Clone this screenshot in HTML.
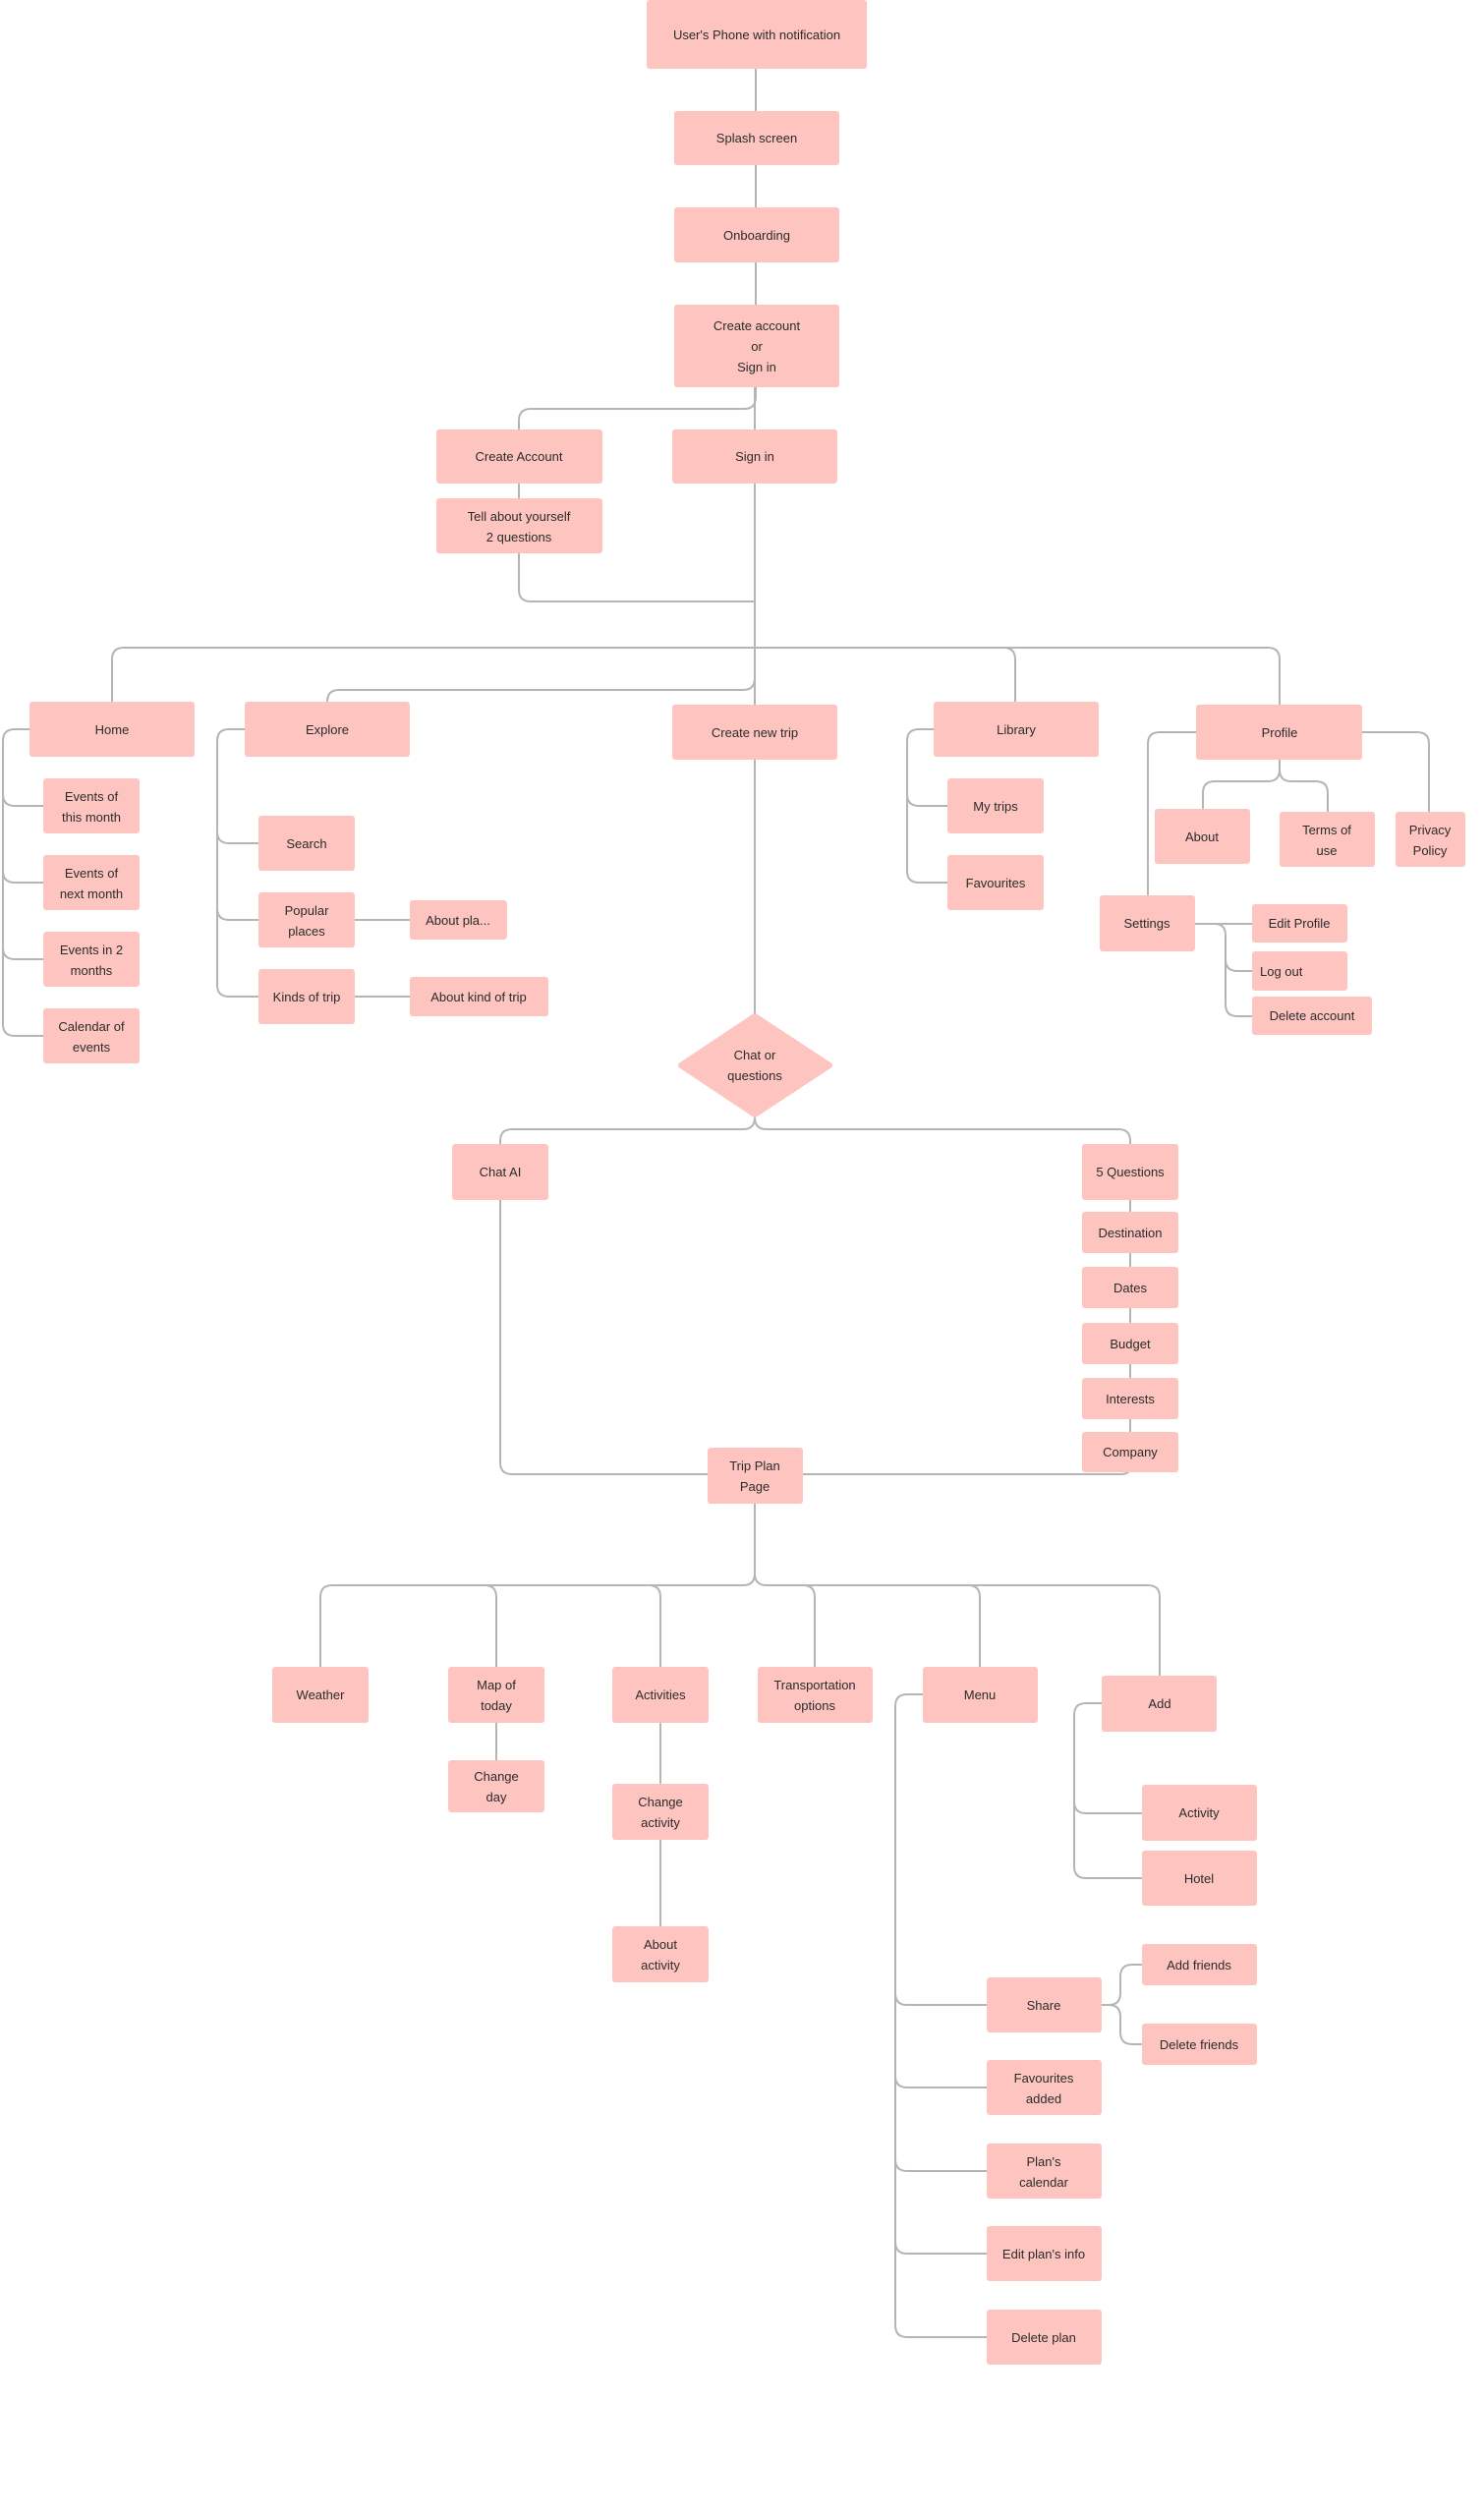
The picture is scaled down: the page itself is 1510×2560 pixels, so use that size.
<!DOCTYPE html>
<html><head><meta charset="utf-8"><style>
html,body{margin:0;padding:0;background:#fff;}
svg{display:block;}
text{font-family:"Liberation Sans",sans-serif;font-size:13px;fill:#2b2b2b;text-anchor:middle;}
rect.n{fill:#fec5c0;}
path{fill:none;stroke:#b5b5b5;stroke-width:2;}
</style></head><body>
<svg width="1510" height="2560" viewBox="0 0 1510 2560" xmlns="http://www.w3.org/2000/svg">
<path d="M769,70V113M769,168V211M769,267V310"/>
<path d="M768,394V437"/>
<path d="M769,394V404Q769,416 757,416H540Q528,416 528,428V437"/>
<path d="M528,492V507"/>
<path d="M528,563V600Q528,612 540,612H769"/>
<path d="M768,492V717"/>
<path d="M114,714V671Q114,659 126,659H1290Q1302,659 1302,671V717"/>
<path d="M1021,659Q1033,659 1033,671V714"/>
<path d="M768,690Q768,702 756,702H345Q333,702 333,714"/>
<path d="M30,742H15Q3,742 3,754V1042Q3,1054 15,1054H44"/>
<path d="M3,808Q3,820 15,820H44M3,886Q3,898 15,898H44M3,964Q3,976 15,976H44"/>
<path d="M249,742H233Q221,742 221,754V1002Q221,1014 233,1014H263"/>
<path d="M221,846Q221,858 233,858H263M221,924Q221,936 233,936H263"/>
<path d="M361,936H417M361,1014H417"/>
<path d="M950,742H935Q923,742 923,754V886Q923,898 935,898H964"/>
<path d="M923,808Q923,820 935,820H964"/>
<path d="M1217,745H1180Q1168,745 1168,757V911"/>
<path d="M1386,745H1442Q1454,745 1454,757V826"/>
<path d="M1302,773V783Q1302,795 1290,795H1236Q1224,795 1224,807V823"/>
<path d="M1302,783Q1302,795 1314,795H1339Q1351,795 1351,807V826"/>
<path d="M1216,940H1274"/>
<path d="M1236,940Q1247,940 1247,952V1022Q1247,1034 1259,1034H1274"/>
<path d="M1247,976Q1247,988 1259,988H1274"/>
<path d="M768,773V1034"/>
<path d="M768,1134V1137Q768,1149 756,1149H521Q509,1149 509,1161V1164"/>
<path d="M768,1137Q768,1149 780,1149H1138Q1150,1149 1150,1161V1164"/>
<path d="M1150,1221V1233M1150,1275V1289M1150,1331V1346M1150,1388V1402M1150,1444V1457"/>
<path d="M509,1221V1488Q509,1500 521,1500H720"/>
<path d="M817,1500H1140Q1150,1500 1150,1493"/>
<path d="M768,1530V1601Q768,1613 756,1613H338Q326,1613 326,1625V1696"/>
<path d="M768,1601Q768,1613 780,1613H1168Q1180,1613 1180,1625V1705"/>
<path d="M493,1613Q505,1613 505,1625V1696M660,1613Q672,1613 672,1625V1696"/>
<path d="M817,1613Q829,1613 829,1625V1696M985,1613Q997,1613 997,1625V1696"/>
<path d="M505,1753V1791M672,1753V1815M672,1872V1960"/>
<path d="M939,1724H923Q911,1724 911,1736V2366Q911,2378 923,2378H1004"/>
<path d="M911,2028Q911,2040 923,2040H1004M911,2112Q911,2124 923,2124H1004M911,2197Q911,2209 923,2209H1004M911,2281Q911,2293 923,2293H1004"/>
<path d="M1121,1733H1105Q1093,1733 1093,1745V1899Q1093,1911 1105,1911H1162"/>
<path d="M1093,1833Q1093,1845 1105,1845H1162"/>
<path d="M1121,2040H1128Q1140,2040 1140,2028V2011Q1140,1999 1152,1999H1162"/>
<path d="M1128,2040Q1140,2040 1140,2052V2068Q1140,2080 1152,2080H1162"/>
<g>
<rect class="n" x="658" y="0" width="224" height="70" rx="3"/><text x="770" y="40">User's Phone with notification</text>
<rect class="n" x="686" y="113" width="168" height="55" rx="3"/><text x="770" y="145">Splash screen</text>
<rect class="n" x="686" y="211" width="168" height="56" rx="3"/><text x="770" y="244">Onboarding</text>
<rect class="n" x="686" y="310" width="168" height="84" rx="3"/><text x="770" y="336">Create account</text><text x="770" y="357">or</text><text x="770" y="378">Sign in</text>
<rect class="n" x="444" y="437" width="169" height="55" rx="3"/><text x="528" y="469">Create Account</text>
<rect class="n" x="684" y="437" width="168" height="55" rx="3"/><text x="768" y="469">Sign in</text>
<rect class="n" x="444" y="507" width="169" height="56" rx="3"/><text x="528" y="530">Tell about yourself</text><text x="528" y="551">2 questions</text>
<rect class="n" x="30" y="714" width="168" height="56" rx="3"/><text x="114" y="747">Home</text>
<rect class="n" x="249" y="714" width="168" height="56" rx="3"/><text x="333" y="747">Explore</text>
<rect class="n" x="684" y="717" width="168" height="56" rx="3"/><text x="768" y="750">Create new trip</text>
<rect class="n" x="950" y="714" width="168" height="56" rx="3"/><text x="1034" y="747">Library</text>
<rect class="n" x="1217" y="717" width="169" height="56" rx="3"/><text x="1302" y="750">Profile</text>
<rect class="n" x="44" y="792" width="98" height="56" rx="3"/><text x="93" y="815">Events of</text><text x="93" y="836">this month</text>
<rect class="n" x="44" y="870" width="98" height="56" rx="3"/><text x="93" y="893">Events of</text><text x="93" y="914">next month</text>
<rect class="n" x="44" y="948" width="98" height="56" rx="3"/><text x="93" y="971">Events in 2</text><text x="93" y="992">months</text>
<rect class="n" x="44" y="1026" width="98" height="56" rx="3"/><text x="93" y="1049">Calendar of</text><text x="93" y="1070">events</text>
<rect class="n" x="263" y="830" width="98" height="56" rx="3"/><text x="312" y="863">Search</text>
<rect class="n" x="263" y="908" width="98" height="56" rx="3"/><text x="312" y="931">Popular</text><text x="312" y="952">places</text>
<rect class="n" x="263" y="986" width="98" height="56" rx="3"/><text x="312" y="1019">Kinds of trip</text>
<rect class="n" x="417" y="916" width="99" height="40" rx="3"/><text x="466" y="941">About pla...</text>
<rect class="n" x="417" y="994" width="141" height="40" rx="3"/><text x="487" y="1019">About kind of trip</text>
<rect class="n" x="964" y="792" width="98" height="56" rx="3"/><text x="1013" y="825">My trips</text>
<rect class="n" x="964" y="870" width="98" height="56" rx="3"/><text x="1013" y="903">Favourites</text>
<rect class="n" x="1175" y="823" width="97" height="56" rx="3"/><text x="1223" y="856">About</text>
<rect class="n" x="1302" y="826" width="97" height="56" rx="3"/><text x="1350" y="849">Terms of</text><text x="1350" y="870">use</text>
<rect class="n" x="1420" y="826" width="71" height="56" rx="3"/><text x="1455" y="849">Privacy</text><text x="1455" y="870">Policy</text>
<rect class="n" x="1119" y="911" width="97" height="57" rx="3"/><text x="1167" y="944">Settings</text>
<rect class="n" x="1274" y="920" width="97" height="39" rx="3"/><text x="1322" y="944">Edit Profile</text>
<rect class="n" x="1274" y="968" width="97" height="40" rx="3"/><text x="1282" y="993" style="text-anchor:start">Log out</text>
<rect class="n" x="1274" y="1014" width="122" height="39" rx="3"/><text x="1335" y="1038">Delete account</text>
<path d="M768,1034L844,1084L768,1134L693,1084Z" style="fill:#fec5c0;stroke:#fec5c0;stroke-width:6;stroke-linejoin:round"/>
<text x="768" y="1078">Chat or</text><text x="768" y="1099">questions</text>
<rect class="n" x="460" y="1164" width="98" height="57" rx="3"/><text x="509" y="1197">Chat AI</text>
<rect class="n" x="1101" y="1164" width="98" height="57" rx="3"/><text x="1150" y="1197">5 Questions</text>
<rect class="n" x="1101" y="1233" width="98" height="42" rx="3"/><text x="1150" y="1259">Destination</text>
<rect class="n" x="1101" y="1289" width="98" height="42" rx="3"/><text x="1150" y="1315">Dates</text>
<rect class="n" x="1101" y="1346" width="98" height="42" rx="3"/><text x="1150" y="1372">Budget</text>
<rect class="n" x="1101" y="1402" width="98" height="42" rx="3"/><text x="1150" y="1428">Interests</text>
<rect class="n" x="1101" y="1457" width="98" height="41" rx="3"/><text x="1150" y="1482">Company</text>
<rect class="n" x="720" y="1473" width="97" height="57" rx="3"/><text x="768" y="1496">Trip Plan</text><text x="768" y="1517">Page</text>
<rect class="n" x="277" y="1696" width="98" height="57" rx="3"/><text x="326" y="1729">Weather</text>
<rect class="n" x="456" y="1696" width="98" height="57" rx="3"/><text x="505" y="1719">Map of</text><text x="505" y="1740">today</text>
<rect class="n" x="623" y="1696" width="98" height="57" rx="3"/><text x="672" y="1729">Activities</text>
<rect class="n" x="771" y="1696" width="117" height="57" rx="3"/><text x="829" y="1719">Transportation</text><text x="829" y="1740">options</text>
<rect class="n" x="939" y="1696" width="117" height="57" rx="3"/><text x="997" y="1729">Menu</text>
<rect class="n" x="1121" y="1705" width="117" height="57" rx="3"/><text x="1180" y="1738">Add</text>
<rect class="n" x="456" y="1791" width="98" height="53" rx="3"/><text x="505" y="1812">Change</text><text x="505" y="1833">day</text>
<rect class="n" x="623" y="1815" width="98" height="57" rx="3"/><text x="672" y="1838">Change</text><text x="672" y="1859">activity</text>
<rect class="n" x="623" y="1960" width="98" height="57" rx="3"/><text x="672" y="1983">About</text><text x="672" y="2004">activity</text>
<rect class="n" x="1162" y="1816" width="117" height="57" rx="3"/><text x="1220" y="1849">Activity</text>
<rect class="n" x="1162" y="1883" width="117" height="56" rx="3"/><text x="1220" y="1916">Hotel</text>
<rect class="n" x="1162" y="1978" width="117" height="42" rx="3"/><text x="1220" y="2004">Add friends</text>
<rect class="n" x="1162" y="2059" width="117" height="42" rx="3"/><text x="1220" y="2085">Delete friends</text>
<rect class="n" x="1004" y="2012" width="117" height="56" rx="3"/><text x="1062" y="2045">Share</text>
<rect class="n" x="1004" y="2096" width="117" height="56" rx="3"/><text x="1062" y="2119">Favourites</text><text x="1062" y="2140">added</text>
<rect class="n" x="1004" y="2181" width="117" height="56" rx="3"/><text x="1062" y="2204">Plan's</text><text x="1062" y="2225">calendar</text>
<rect class="n" x="1004" y="2265" width="117" height="56" rx="3"/><text x="1062" y="2298">Edit plan's info</text>
<rect class="n" x="1004" y="2350" width="117" height="56" rx="3"/><text x="1062" y="2383">Delete plan</text>
</g>
</svg>
</body></html>
